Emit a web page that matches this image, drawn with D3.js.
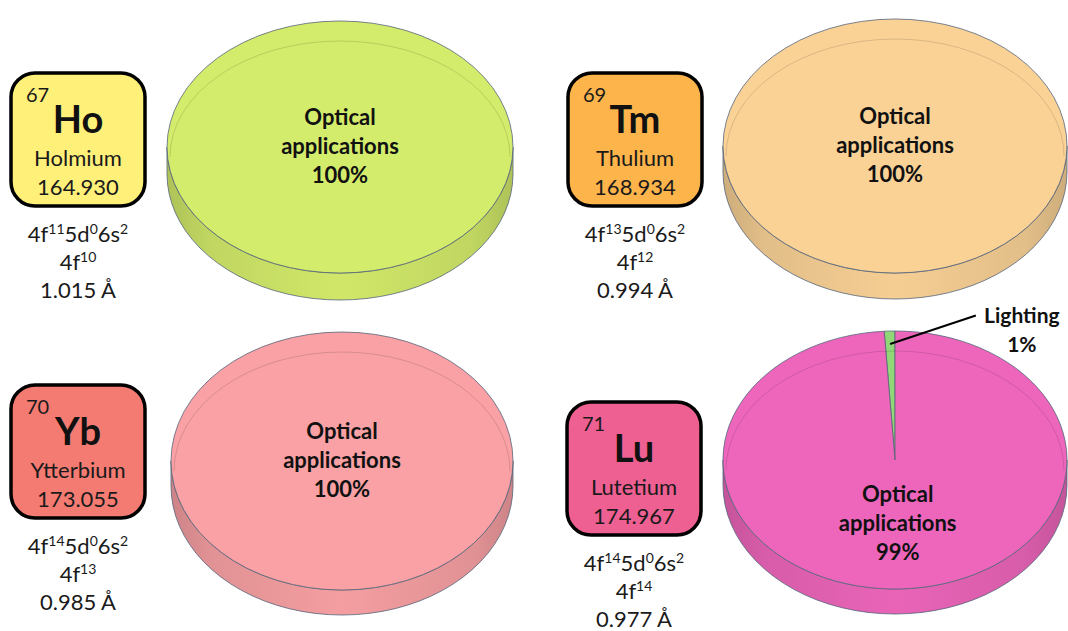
<!DOCTYPE html>
<html>
<head>
<meta charset="utf-8">
<script src="https://cdn.jsdelivr.net/npm/d3@7"></script>
<style>
  body { margin: 0; background: #fff; }
  svg { display: block; font-family: Lato, 'Open Sans', sans-serif; }
</style>
</head>
<body>
<div id="graf"></div>
<script>
// element data
const symbols = ['Ho', 'Tm', 'Yb', 'Lu']
const atomicNumbers = [67, 69, 70, 71]
const names = ['Holmium', 'Thulium', 'Ytterbium', 'Lutetium']
const masses = ['164.930', '168.934', '173.055', '174.967']
const fShell = ['11', '13', '14', '14']
const ionShell = ['10', '12', '13', '14']
const radii = ['1.015', '0.994', '0.985', '0.977']

// uses (percent)
const useLabels = ['Optical applications', 'Lighting']
const opticalShare = [100, 100, 100, 99]
const lightingShare = [0, 0, 0, 1]

const boxColors = ['#fff07a', '#fdb44b', '#f47b72', '#ee5f92']
const pieColors = ['#d4ec6b', '#fad296', '#f9a1a4', '#ee66bb']
const lightingColor = '#92d777'

// layout per panel
const boxPos = [[11, 73], [568, 73], [11, 385], [567, 402]]
const piePos = [
  { cx: 340, cy: 147, rx: 173, ry: 126, depth: 27 },
  { cx: 895, cy: 146, rx: 172, ry: 127, depth: 26 },
  { cx: 342, cy: 461, rx: 171, ry: 129, depth: 25 },
  { cx: 895, cy: 460, rx: 172, ry: 129, depth: 25 },
]

const svg = d3.select('#graf')
  .append('svg')
  .attr('width', 1068)
  .attr('height', 631)

const defs = svg.append('defs')

symbols.forEach((s, i) => {
  drawBox(i)
  drawPie(i)
})

function supText(g, y, parts, size) {
  const t = g.append('text')
    .attr('x', 67)
    .attr('y', y)
    .attr('text-anchor', 'middle')
    .attr('font-size', size)
    .attr('fill', '#1a1a1a')
  let up = false
  parts.forEach(p => {
    const sup = p[1]
    const ts = t.append('tspan').text(p[0])
    if (sup && !up) { ts.attr('dy', -8).attr('font-size', 14); up = true }
    else if (sup) { ts.attr('font-size', 14) }
    else if (up) { ts.attr('dy', 8); up = false }
  })
}

function drawBox(i) {
  const [bx, by] = boxPos[i]
  const g = svg.append('g').attr('transform', `translate(${bx}, ${by})`)

  g.append('rect')
    .attr('width', 134)
    .attr('height', 133)
    .attr('rx', 24)
    .attr('fill', boxColors[i])
    .attr('stroke', '#000')
    .attr('stroke-width', 3.5)

  g.append('text')
    .attr('x', 15).attr('y', 29)
    .attr('font-size', 20)
    .attr('fill', '#1a1a1a')
    .text(atomicNumbers[i])

  g.append('text')
    .attr('x', 67).attr('y', 60)
    .attr('text-anchor', 'middle')
    .attr('font-size', 38)
    .attr('font-weight', 'bold')
    .attr('fill', '#111')
    .text(symbols[i])

  g.append('text')
    .attr('x', 67).attr('y', 93)
    .attr('text-anchor', 'middle')
    .attr('font-size', 22)
    .attr('fill', '#1a1a1a')
    .text(names[i])

  g.append('text')
    .attr('x', 67).attr('y', 122)
    .attr('text-anchor', 'middle')
    .attr('font-size', 22)
    .attr('fill', '#1a1a1a')
    .text(masses[i])

  supText(g, 169, [['4f', 0], [fShell[i], 1], ['5d', 0], ['0', 1], ['6s', 0], ['2', 1]], 22)
  supText(g, 197, [['4f', 0], [ionShell[i], 1]], 22)
  supText(g, 225, [[radii[i] + ' Å', 0]], 22)
}

function drawPie(i) {
  const p = piePos[i]
  const k = p.ry / p.rx
  const color = d3.scaleOrdinal()
    .domain(useLabels)
    .range([pieColors[i], lightingColor])

  const data = [
    { label: useLabels[1], value: lightingShare[i] },
    { label: useLabels[0], value: opticalShare[i] },
  ]
  const a0 = -2 * Math.PI * lightingShare[i] / 100
  const slices = d3.pie()
    .sort(null)
    .value(d => d.value)
    .startAngle(a0)
    .endAngle(a0 + 2 * Math.PI)(data)
    .filter(d => d.value > 0)

  const arc = d3.arc().innerRadius(0).outerRadius(p.rx)

  // side gradient
  const base = d3.color(pieColors[i])
  const grad = defs.append('linearGradient')
    .attr('id', 'side' + i)
    .attr('x1', 0).attr('x2', 1).attr('y1', 0).attr('y2', 0)
  ;[[0, 0.55], [0.12, 0.28], [0.5, 0.06], [0.88, 0.28], [1, 0.55]].forEach(s => {
    grad.append('stop').attr('offset', s[0]).attr('stop-color', base.darker(s[1]))
  })

  const g = svg.append('g')

  // side walls, front half only
  const ex = a => p.cx + p.rx * Math.sin(a)
  const ey = a => p.cy - p.ry * Math.cos(a)
  const line = d3.line()
  slices.forEach(s => {
    [-2 * Math.PI, 0, 2 * Math.PI].forEach(off => {
      const lo = Math.max(s.startAngle, Math.PI / 2 + off)
      const hi = Math.min(s.endAngle, 3 * Math.PI / 2 + off)
      if (hi <= lo) return
      const angs = d3.range(41).map(j => lo + (hi - lo) * j / 40)
      const pts = angs.map(a => [ex(a), ey(a)])
        .concat(angs.slice().reverse().map(a => [ex(a), ey(a) + p.depth]))
      g.append('path')
        .attr('d', line(pts) + 'Z')
        .attr('fill', s.data.label === useLabels[0] ? `url(#side${i})` : d3.color(lightingColor).darker(0.4))
        .attr('stroke', '#56657a')
        .attr('stroke-width', 0.8)
    })
  })

  // top face
  const top = g.append('g')
    .attr('transform', `translate(${p.cx}, ${p.cy}) scale(1, ${k})`)
  top.selectAll('path.slice')
    .data(slices)
    .enter()
    .append('path')
    .attr('class', 'slice')
    .attr('d', arc)
    .attr('fill', d => color(d.data.label))
    .attr('stroke', '#56657a')
    .attr('stroke-width', 0.8)
    .attr('vector-effect', 'non-scaling-stroke')

  // inner bevel line
  g.append('path')
    .attr('d', `M${p.cx - p.rx + 3},${p.cy + 10} A${p.rx - 3},${p.ry - 10} 0 0 1 ${p.cx + p.rx - 3},${p.cy + 10}`)
    .attr('fill', 'none')
    .attr('stroke', 'rgba(0,0,0,0.13)')
    .attr('stroke-width', 1)

  // labels
  slices.forEach(s => {
    const pct = s.value + '%'
    if (s.value >= 50) {
      let lx = p.cx, ly = p.cy
      if (s.value < 100) {
        const c = arc.centroid(s)
        lx = p.cx + c[0]
        ly = p.cy + c[1] * k
      }
      const lines = s.data.label.split(' ').concat([pct])
      lines.forEach((t, j) => {
        g.append('text')
          .attr('x', lx)
          .attr('y', ly + (j - 1) * 29 + 7)
          .attr('text-anchor', 'middle')
          .attr('font-size', 22)
          .attr('font-weight', 'bold')
          .attr('fill', '#111')
          .text(t)
      })
    } else {
      const mid = (s.startAngle + s.endAngle) / 2
      const sx = ex(mid) + (p.cx - ex(mid)) * 0.1
      const sy = ey(mid) + (p.cy - ey(mid)) * 0.1
      const tx = p.cx + p.rx * 0.47
      const ty = p.cy - p.ry * 1.12
      g.append('line')
        .attr('x1', sx).attr('y1', sy)
        .attr('x2', tx).attr('y2', ty)
        .attr('stroke', '#000')
        .attr('stroke-width', 2)
      ;[s.data.label, pct].forEach((t, j) => {
        g.append('text')
          .attr('x', tx + 46)
          .attr('y', ty + 7 + j * 29)
          .attr('text-anchor', 'middle')
          .attr('font-size', 21)
          .attr('font-weight', 'bold')
          .attr('fill', '#111')
          .text(t)
      })
    }
  })
}
</script>
</body>
</html>
